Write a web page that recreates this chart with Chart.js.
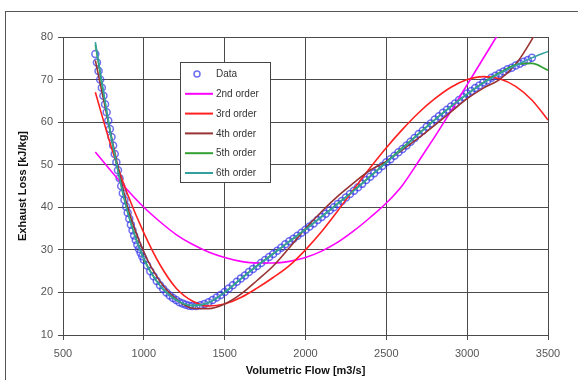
<!DOCTYPE html>
<html>
<head>
<meta charset="utf-8">
<script src="https://cdn.jsdelivr.net/npm/chart.js@4.4.1/dist/chart.umd.min.js"></script>
<style>
body { margin: 0; background: #fff; }
#wrap { position: relative; width: 578px; height: 380px; }
</style>
</head>
<body>
<div id="wrap"><canvas id="canvas" width="578" height="380"></canvas></div>
<script>
// measured points (blue circles)
const flowData = [
  700, 710, 720, 730, 740, 750, 760, 770, 780, 790, 800, 810, 820, 830, 840, 850, 860, 870, 880, 890,
  900, 910, 920, 930, 940, 950, 960, 970, 980, 990, 1000, 1020, 1040, 1060, 1080, 1100, 1120, 1140, 1160, 1180,
  1200, 1220, 1240, 1260, 1280, 1300, 1325, 1350, 1375, 1400, 1425, 1450, 1475, 1500, 1525, 1550, 1575, 1600, 1625, 1650,
  1675, 1700, 1725, 1750, 1775, 1800, 1825, 1850, 1875, 1900, 1925, 1950, 1975, 2000, 2025, 2050, 2075, 2100, 2125, 2150,
  2175, 2200, 2225, 2250, 2275, 2300, 2325, 2350, 2375, 2400, 2425, 2450, 2475, 2500, 2525, 2550, 2575, 2600, 2625, 2650,
  2675, 2700, 2725, 2750, 2775, 2800, 2825, 2850, 2875, 2900, 2925, 2950, 2975, 3000, 3025, 3050, 3075, 3100, 3125, 3150,
  3175, 3200, 3225, 3250, 3275, 3300, 3325, 3350, 3375, 3400
];
const lossData = [
  76.0, 74.0, 72.0, 70.0, 68.1, 66.2, 64.2, 62.3, 60.3, 58.4, 56.5, 54.5, 52.5, 50.6, 48.7, 46.8, 45.0, 43.3, 41.7, 40.2,
  38.7, 37.3, 35.9, 34.6, 33.4, 32.3, 31.2, 30.2, 29.3, 28.5, 27.7, 26.3, 25.0, 23.8, 22.7, 21.7, 20.8, 20.0, 19.3, 18.7,
  18.2, 17.7, 17.4, 17.1, 16.9, 16.8, 16.8, 17.0, 17.3, 17.7, 18.2, 18.8, 19.4, 20.1, 20.9, 21.7, 22.5, 23.3, 24.0, 24.8,
  25.5, 26.2, 26.9, 27.6, 28.3, 29.0, 29.8, 30.5, 31.3, 32.0, 32.6, 33.3, 34.0, 34.7, 35.5, 36.2, 37.0, 37.7, 38.5, 39.3,
  40.0, 40.8, 41.5, 42.3, 43.1, 43.9, 44.7, 45.5, 46.4, 47.2, 48.0, 48.9, 49.7, 50.6, 51.3, 52.1, 52.9, 53.7, 54.5, 55.4,
  56.3, 57.2, 58.0, 58.9, 59.7, 60.6, 61.4, 62.2, 62.9, 63.7, 64.4, 65.2, 65.9, 66.7, 67.3, 68.0, 68.6, 69.3, 69.8, 70.4,
  70.9, 71.4, 71.9, 72.4, 72.8, 73.3, 73.7, 74.2, 74.6, 75.1
];

// trend lines
const fitFlow = [700, 800, 900, 1000, 1100, 1200, 1300, 1400, 1500, 1600, 1700, 1800, 1900, 2000, 2100,
  2200, 2300, 2400, 2500, 2600, 2700, 2800, 2900, 3000, 3100, 3200, 3300, 3400, 3500];
const fit2nd = [53.0, 48.4, 44.0, 40.0, 36.6, 33.6, 31.3, 29.5, 28.2, 27.3, 26.9, 26.9, 27.3, 28.2, 29.7,
  31.8, 34.5, 37.6, 41.0, 45.2, 50.8, 56.6, 62.6, 68.8, 75.0, 81.2, 87.5, 94.0, 100.5];
const fit3rd = [67.0, 54.0, 43.0, 34.0, 26.5, 21.0, 18.0, 16.8, 17.3, 18.8, 21.0, 23.5, 26.3, 30.0, 34.3,
  39.2, 44.3, 49.3, 54.0, 58.3, 62.2, 65.5, 68.2, 70.0, 70.7, 70.2, 68.4, 65.2, 60.5];
const fit4th = [74.5, 56.5, 40.0, 29.5, 22.6, 18.5, 16.3, 16.2, 17.3, 19.6, 22.8, 26.2, 30.5, 35.0, 39.0,
  42.6, 45.8, 48.7, 50.8, 53.5, 56.3, 59.3, 62.4, 65.5, 68.0, 70.0, 73.6, 79.4, 86.5];
const fit5th = [78.2, 56.0, 38.9, 28.0, 21.6, 18.2, 16.9, 17.6, 20.0, 23.2, 26.3, 29.1, 32.0, 34.8, 37.8,
  40.9, 44.0, 47.3, 50.6, 54.0, 57.3, 60.6, 63.7, 66.6, 69.3, 71.6, 73.5, 73.8, 72.2];
const fit6th = [78.8, 56.3, 38.8, 27.8, 21.6, 18.3, 16.9, 17.6, 20.0, 23.2, 26.2, 29.0, 32.0, 34.8, 37.8,
  40.8, 43.9, 47.2, 50.5, 53.8, 57.2, 60.5, 63.7, 66.6, 69.2, 71.4, 73.3, 75.1, 76.6];

const seriesNames = ['Data', '2nd order', '3rd order', '4th order', '5th order', '6th order'];
const seriesColors = ['rgba(50,50,235,0.7)', '#ff00ff', '#ff2020', '#993333', '#33a033', '#33a0a0'];
const xTicks = [500, 1000, 1500, 2000, 2500, 3000, 3500];
const yTicks = [10, 20, 30, 40, 50, 60, 70, 80];

function pts(xs, ys) {
  return xs.map((x, i) => ({ x: x, y: ys[i] }));
}

const fits = [fit2nd, fit3rd, fit4th, fit5th, fit6th];
const datasets = [{
  label: seriesNames[0],
  data: pts(flowData, lossData),
  showLine: false,
  pointStyle: 'circle',
  pointRadius: 3.5,
  pointBorderWidth: 1.5,
  pointBorderColor: seriesColors[0],
  pointBackgroundColor: 'rgba(0,0,0,0)',
  order: 6
}];
fits.forEach((f, i) => {
  datasets.push({
    label: seriesNames[i + 1],
    data: pts(fitFlow, f),
    showLine: true,
    borderColor: seriesColors[i + 1],
    borderWidth: 1.6,
    pointRadius: 0,
    cubicInterpolationMode: 'monotone',
    order: 5 - i
  });
});

// outer frame, axis titles and the boxed legend
const decorations = {
  id: 'decorations',
  beforeDraw(chart) {
    const ctx = chart.ctx;
    ctx.save();
    ctx.fillStyle = '#fff';
    ctx.fillRect(0, 0, chart.width, chart.height);
    ctx.strokeStyle = '#555';
    ctx.lineWidth = 1;
    ctx.strokeRect(5.5, 11.5, 640, 420);
    ctx.restore();
  },
  afterDraw(chart) {
    const ctx = chart.ctx;
    const a = chart.chartArea;
    ctx.save();
    ctx.fillStyle = '#111';
    ctx.font = 'bold 11px Arial';
    ctx.textAlign = 'center';
    ctx.textBaseline = 'middle';
    ctx.fillText('Volumetric Flow [m3/s]', (a.left + a.right) / 2, 371);
    ctx.translate(23, (a.top + a.bottom) / 2);
    ctx.rotate(-Math.PI / 2);
    ctx.fillText('Exhaust Loss [kJ/kg]', 0, 0);
    ctx.restore();

    ctx.save();
    ctx.fillStyle = '#fff';
    ctx.fillRect(180, 62, 90, 120);
    ctx.strokeStyle = '#444';
    ctx.lineWidth = 1;
    ctx.strokeRect(180.5, 62.5, 90, 120);
    ctx.font = '10px Arial';
    ctx.textBaseline = 'middle';
    ctx.textAlign = 'left';
    chart.data.datasets.forEach((ds, i) => {
      const y = 74 + i * 19.8;
      if (i === 0) {
        ctx.strokeStyle = seriesColors[0];
        ctx.lineWidth = 1.5;
        ctx.beginPath();
        ctx.arc(197, y, 3, 0, Math.PI * 2);
        ctx.stroke();
      } else {
        ctx.strokeStyle = ds.borderColor;
        ctx.lineWidth = 2;
        ctx.beginPath();
        ctx.moveTo(185, y);
        ctx.lineTo(213, y);
        ctx.stroke();
      }
      ctx.fillStyle = '#333';
      ctx.fillText(ds.label, 216, y + 0.5);
    });
    ctx.restore();
  }
};

const gridStyle = {
  color: '#4a4a4a',
  lineWidth: 1,
  tickLength: 5,
  drawTicks: true
};

new Chart(document.getElementById('canvas').getContext('2d'), {
  type: 'scatter',
  data: { datasets: datasets },
  options: {
    responsive: false,
    animation: false,
    events: [],
    layout: { padding: { top: 37, right: 30, left: 0, bottom: 0 } },
    plugins: { legend: { display: false }, tooltip: { enabled: false } },
    scales: {
      x: {
        type: 'linear',
        min: 500,
        max: 3500,
        afterBuildTicks: s => { s.ticks = xTicks.map(v => ({ value: v })); },
        afterFit: s => { s.height = 45; },
        grid: gridStyle,
        border: { color: '#4a4a4a' },
        ticks: { color: '#555', font: { family: 'Arial', size: 11 }, padding: 7, maxRotation: 0,
          callback: v => String(v) }
      },
      y: {
        type: 'linear',
        min: 10,
        max: 80,
        afterBuildTicks: s => { s.ticks = yTicks.map(v => ({ value: v })); },
        afterFit: s => { s.width = 63; },
        grid: gridStyle,
        border: { color: '#4a4a4a' },
        ticks: { color: '#555', font: { family: 'Arial', size: 11 }, padding: 5,
          callback: v => String(v) }
      }
    }
  },
  plugins: [decorations]
});
</script>
</body>
</html>
